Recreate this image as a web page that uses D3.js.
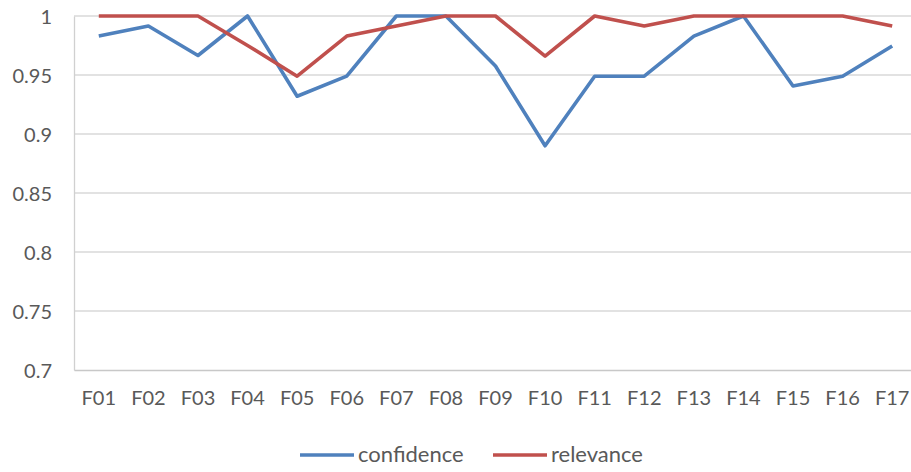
<!DOCTYPE html>
<meta charset="utf-8">
<style>
  body { margin: 0; background: #fff; }
  .tick text, .label { font-family: "Lato", "Open Sans", sans-serif; fill: #595959; }
  .line { fill: none; stroke-width: 3.6px; stroke-linejoin: round; }
</style>
<body>
  <script src="https://d3js.org/d3.v7.min.js"></script>
  <script>
    // data
    var categories = ["F01", "F02", "F03", "F04", "F05", "F06", "F07", "F08", "F09",
      "F10", "F11", "F12", "F13", "F14", "F15", "F16", "F17"];
    var confidence = [0.983, 0.9915, 0.9665, 1, 0.932, 0.949, 1, 1, 0.9576,
      0.89, 0.949, 0.949, 0.983, 1, 0.9407, 0.949, 0.9746];
    var relevance = [1, 1, 1, 0.975, 0.949, 0.983, 0.9915, 1, 1,
      0.966, 1, 0.9915, 1, 1, 1, 1, 0.9915];
    var yTicks = [0.7, 0.75, 0.8, 0.85, 0.9, 0.95, 1];
    var seriesNames = ["confidence", "relevance"];
    var colors = ["#4f81bd", "#c0504d"];

    var width = 911, height = 472;
    var plot = { left: 74, right: 917, top: 16, bottom: 370 };

    var svg = d3.select("body").append("svg")
      .attr("width", width)
      .attr("height", height);

    var x = d3.scaleBand().domain(categories).range([plot.left, plot.right]);
    var y = d3.scaleLinear().domain([0.7, 1]).range([plot.bottom, plot.top]);

    // grid lines
    svg.append("g")
      .selectAll("line")
      .data(yTicks.slice(1))
      .enter().append("line")
      .attr("x1", plot.left)
      .attr("x2", plot.right)
      .attr("y1", function(d) { return y(d); })
      .attr("y2", function(d) { return y(d); })
      .style("stroke", "#d9d9d9")
      .style("stroke-width", 1.3);

    // y axis
    var yAxis = svg.append("g")
      .attr("transform", "translate(" + plot.left + ",0)")
      .call(d3.axisLeft(y).tickValues(yTicks).tickSize(0).tickPadding(22)
        .tickFormat(function(d) { return d3.format("")(+d.toFixed(2)); }));
    yAxis.select(".domain").style("stroke", "#d0d0d0").style("stroke-width", 1.3);
    yAxis.selectAll("text").style("font-size", "20px").attr("dy", "0.35em");

    // x axis
    var xAxis = svg.append("g")
      .attr("transform", "translate(0," + plot.bottom + ")")
      .call(d3.axisBottom(x).tickSize(0).tickPadding(21));
    xAxis.select(".domain").style("stroke", "#c8c8c8").style("stroke-width", 1.3);
    xAxis.selectAll("text").style("font-size", "20px");

    var valueline = d3.line()
      .x(function(d, i) { return x(categories[i]) + x.bandwidth() / 2; })
      .y(function(d) { return y(d); });

    [confidence, relevance].forEach(function(s, k) {
      svg.append("path")
        .datum(s)
        .attr("class", "line")
        .style("stroke", colors[k])
        .attr("d", valueline);
    });

    // legend
    var legendX = [300, 493];
    seriesNames.forEach(function(name, k) {
      var g = svg.append("g").attr("transform", "translate(" + legendX[k] + ",455)");
      g.append("line")
        .attr("x1", 0).attr("x2", 54)
        .style("stroke", colors[k])
        .style("stroke-width", 3.6);
      g.append("text")
        .attr("class", "label")
        .attr("x", 58)
        .attr("y", 7)
        .style("font-size", "22px")
        .text(name);
    });
  </script>
</body>
